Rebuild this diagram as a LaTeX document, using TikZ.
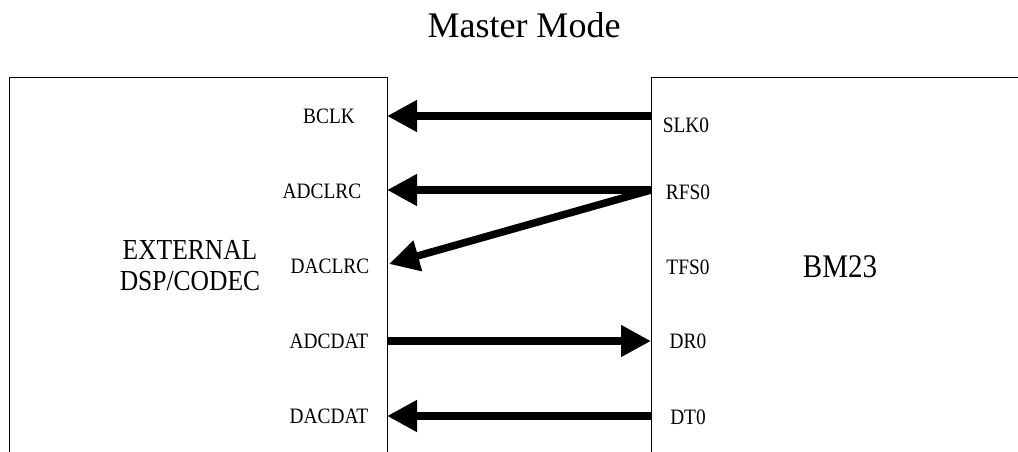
\documentclass[tikz,border=0pt]{standalone}
\usepackage{fontspec}
\setmainfont{Liberation Serif}
\newfontfamily\narrowserif{Liberation Serif}[FakeStretch=0.88]
\usetikzlibrary{arrows.meta}
\tikzset{
  block/.style      = {draw, line width=0.8pt, anchor=north west,
                       inner sep=0pt},
  pinlabel/.style   = {font=\narrowserif\fontsize{22}{22}\selectfont, inner sep=0pt},
  blocklabel/.style = {font=\narrowserif\fontsize{29}{31}\selectfont, align=center,
                       inner sep=0pt},
  signal/.style     = {line width=7.5pt,
                       -{Triangle[length=30pt,width=30pt]}}
}

\begin{document}
\begin{tikzpicture}[x=1pt, y=-1pt]
  \clip (0,0) rectangle (1018,451);

  \node [font=\fontsize{36}{36}\selectfont, inner sep=0pt] (title) at (524,25) {Master Mode};

  % the two blocks run off the page
  \node [block, minimum width=378pt, minimum height=420pt] (codec) at (9,77) {};
  \node [block, minimum width=420pt, minimum height=420pt] (bm) at (651,77) {};
  \node [blocklabel] (codecname) at (190,266) {EXTERNAL\\DSP/CODEC};
  \node [blocklabel, font=\narrowserif\fontsize{33}{33}\selectfont] (bmname) at (840,267) {BM23};

  % pins of the codec
  \node [pinlabel] (bclk)   at (329,116) {BCLK};
  \node [pinlabel] (adclrc) at (322,191) {ADCLRC};
  \node [pinlabel] (daclrc) at (330,266) {DACLRC};
  \node [pinlabel] (adcdat) at (329,341) {ADCDAT};
  \node [pinlabel] (dacdat) at (329,416) {DACDAT};
  \coordinate (cBCLK)   at (387,116);
  \coordinate (cADCLRC) at (387,190);
  \coordinate (cDACLRC) at (389,264);
  \coordinate (cADCDAT) at (387,341);
  \coordinate (cDACDAT) at (387,416);

  % pins of the BM23
  \node [pinlabel] (slk0) at (686,125) {SLK0};
  \node [pinlabel] (rfs0) at (688,192) {RFS0};
  \node [pinlabel] (tfs0) at (688,267) {TFS0};
  \node [pinlabel] (dr0)  at (688,341) {DR0};
  \node [pinlabel] (dt0)  at (688,417) {DT0};
  \coordinate (bSLK0) at (651,116);
  \coordinate (bRFS0) at (651,190);
  \coordinate (bDR0)  at (651,341);
  \coordinate (bDT0)  at (651,416);

  \draw [signal] (bSLK0) -- (cBCLK);
  \draw [signal] (bRFS0) -- (cADCLRC);
  \draw [signal] (bRFS0) -- (cDACLRC);
  \draw [signal] (cADCDAT) -- (bDR0);
  \draw [signal] (bDT0) -- (cDACDAT);
\end{tikzpicture}
\end{document}
